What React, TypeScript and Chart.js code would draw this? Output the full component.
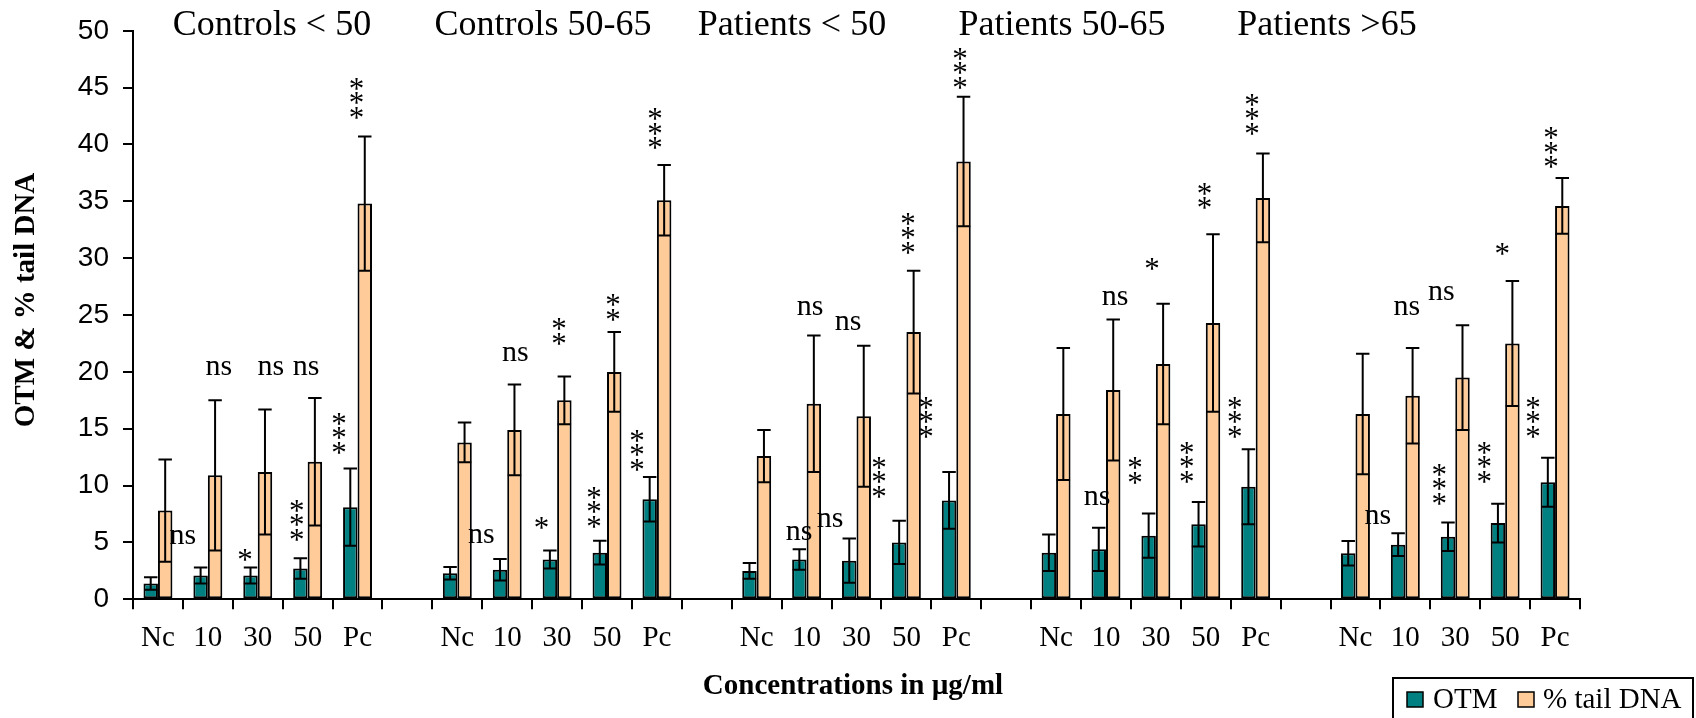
import React, { useEffect, useRef } from 'react';
import { Chart, registerables } from 'chart.js';

Chart.register(...registerables);

// ---------------- data ----------------
const groupTitles = ['Controls < 50', 'Controls 50-65', 'Patients < 50', 'Patients 50-65', 'Patients >65'];
const concentrations = ['Nc', '10', '30', '50', 'Pc'];

// flat, group by group (5 concentrations each)
const otmMean = [
  1.4, 2.1, 2.1, 2.7, 8.1,
  2.3, 2.6, 3.5, 4.1, 8.8,
  2.5, 3.5, 3.4, 5.0, 8.7,
  4.1, 4.4, 5.6, 6.6, 9.9,
  4.05, 4.8, 5.5, 6.7, 10.3,
];
const otmErr = [
  0.55, 0.7, 0.7, 0.9, 3.4,
  0.55, 0.95, 0.8, 1.05, 1.95,
  0.7, 0.9, 1.95, 1.9, 2.5,
  1.6, 1.9, 1.95, 1.95, 3.3,
  1.07, 1.0, 1.25, 1.7, 2.15,
];
const tailMean = [
  7.8, 10.9, 11.2, 12.1, 34.8,
  13.8, 14.9, 17.5, 20.0, 35.1,
  12.6, 17.2, 16.1, 23.5, 38.5,
  16.3, 18.4, 20.7, 24.3, 35.3,
  16.3, 17.9, 19.5, 22.5, 34.6,
];
const tailErr = [
  4.5, 6.6, 5.5, 5.6, 5.9,
  1.75, 4.0, 2.1, 3.5, 3.1,
  2.3, 6.0, 6.2, 5.4, 5.7,
  5.8, 6.2, 5.3, 7.8, 3.9,
  5.3, 4.2, 4.6, 5.5, 2.45,
];

// significance labels: text, flat slot (0..24), value level (axis units)
const sigText = [
  'ns', 'ns', '*', 'ns', 'ns', '***', '***', '***',
  'ns', 'ns', '*', '**', '**', '***', '***', '***',
  'ns', 'ns', 'ns', 'ns', '***', '***', '***', '***',
  'ns', 'ns', '**', '*', '***', '**', '***', '***',
  'ns', 'ns', 'ns', '***', '***', '*', '***', '***',
];
const sigSlot = [
  1, 1, 2, 2, 3, 3, 4, 4,
  6, 6, 7, 7, 8, 8, 9, 9,
  11, 12, 11, 12, 13, 13, 14, 14,
  16, 16, 17, 17, 18, 18, 19, 19,
  21, 21, 22, 22, 23, 23, 24, 24,
];
const sigLevel = [
  5.46, 20.3, 3.9, 20.3, 20.3, 6.96, 14.6, 44.05,
  5.58, 21.6, 6.7, 23.55, 25.65, 8.1, 13.1, 41.4,
  5.8, 6.96, 25.6, 24.3, 10.75, 32.2, 16.0, 46.7,
  8.9, 26.5, 11.35, 29.5, 12.05, 35.45, 16.0, 42.65,
  7.2, 25.65, 26.96, 10.1, 12.05, 30.8, 16.0, 39.7,
];

// ---------------- layout (pixels) ----------------
const sigDx = [
  -25, 11, -12.75, 13, -1.6, -11, -18.5, -1,
  -26, 8, -15.5, 2, 6, -13, -20, -2,
  -7.6, -26.5, 3.4, -8.5, -27.5, 1.5, -30.4, 3.6,
  -9, 9, -21, -4, -19, -1.3, -21, -3.7,
  -27.5, 1.5, -14, -16, -21, -3, -22, -4,
];
const titleX = [272, 543, 792, 1062, 1327];

const W = 1696;
const H = 718;
const OTM_COLOR = '#008080';
const TAIL_COLOR = '#FFCC99';
const SERIF = '"Liberation Serif", "Times New Roman", serif';
const SANS = '"Liberation Sans", Arial, sans-serif';

const slotToIndex = (k: number) => Math.floor(k / 5) * 6 + (k % 5);

function buildLabels() {
  const out: string[] = [];
  groupTitles.forEach((_, g) => {
    concentrations.forEach((c) => out.push(c));
    if (g < groupTitles.length - 1) out.push('');
  });
  return out;
}
function spread(values: number[]) {
  const out: (number | null)[] = [];
  for (let g = 0; g < groupTitles.length; g++) {
    for (let i = 0; i < 5; i++) out.push(values[g * 5 + i]);
    if (g < groupTitles.length - 1) out.push(null);
  }
  return out;
}

function drawInkCentered(ctx: CanvasRenderingContext2D, text: string, x: number, cy: number, font: string) {
  ctx.font = font;
  ctx.textAlign = 'center';
  ctx.textBaseline = 'alphabetic';
  const m = ctx.measureText(text);
  const base = cy + (m.actualBoundingBoxAscent - m.actualBoundingBoxDescent) / 2;
  ctx.fillText(text, x, base);
}

const overlay = {
  id: 'overlay',
  afterDatasetsDraw(chart: any) {
    const ctx: CanvasRenderingContext2D = chart.ctx;
    const y = chart.scales.y;
    const sets = [
      { mean: otmMean, err: otmErr },
      { mean: tailMean, err: tailErr },
    ];
    ctx.save();
    ctx.strokeStyle = '#000';
    ctx.lineWidth = 2;
    sets.forEach((s, d) => {
      const meta = chart.getDatasetMeta(d);
      for (let k = 0; k < s.mean.length; k++) {
        const el = meta.data[slotToIndex(k)];
        if (!el) continue;
        const x = el.x;
        const half = el.width / 2 - 0.5;
        const yt = y.getPixelForValue(s.mean[k] + s.err[k]);
        const yb = y.getPixelForValue(s.mean[k] - s.err[k]);
        ctx.beginPath();
        ctx.moveTo(x, yt);
        ctx.lineTo(x, yb);
        ctx.moveTo(x - half, yt);
        ctx.lineTo(x + half, yt);
        ctx.moveTo(x - half, yb);
        ctx.lineTo(x + half, yb);
        ctx.stroke();
      }
    });
    ctx.restore();
  },
  afterDraw(chart: any) {
    const ctx: CanvasRenderingContext2D = chart.ctx;
    const xs = chart.scales.x;
    const ys = chart.scales.y;
    ctx.save();
    ctx.fillStyle = '#000';

    // significance marks
    for (let j = 0; j < sigText.length; j++) {
      const cx = xs.getPixelForValue(slotToIndex(sigSlot[j])) + sigDx[j];
      const cy = ys.getPixelForValue(sigLevel[j]);
      const t = sigText[j];
      if (t === 'ns') {
        drawInkCentered(ctx, 'ns', cx, cy, `30px ${SERIF}`);
      } else {
        const n = t.length;
        for (let s = 0; s < n; s++) {
          drawInkCentered(ctx, '*', cx, cy + (s - (n - 1) / 2) * 14.5, `31px ${SERIF}`);
        }
      }
    }

    // group titles
    ctx.font = `36px ${SERIF}`;
    ctx.textAlign = 'center';
    ctx.textBaseline = 'alphabetic';
    groupTitles.forEach((t, g) => ctx.fillText(t, titleX[g], 35));

    // axis titles
    ctx.font = `bold 29px ${SERIF}`;
    ctx.fillText('Concentrations in µg/ml', 853, 694);
    ctx.save();
    ctx.translate(27, 300);
    ctx.rotate(-Math.PI / 2);
    ctx.textBaseline = 'middle';
    ctx.fillText('OTM & % tail DNA', 0, 0);
    ctx.restore();

    // legend
    ctx.lineWidth = 2;
    ctx.strokeStyle = '#000';
    ctx.strokeRect(1393, 678, 300, 60);
    const items = [
      { label: 'OTM', color: OTM_COLOR, bx: 1407, tx: 1433 },
      { label: '% tail DNA', color: TAIL_COLOR, bx: 1518, tx: 1543 },
    ];
    ctx.font = `29px ${SERIF}`;
    ctx.textAlign = 'left';
    ctx.textBaseline = 'alphabetic';
    items.forEach((it) => {
      ctx.fillStyle = it.color;
      ctx.fillRect(it.bx, 692, 16, 15);
      ctx.lineWidth = 1.5;
      ctx.strokeRect(it.bx, 692, 16, 15);
      ctx.fillStyle = '#000';
      ctx.fillText(it.label, it.tx, 708);
    });
    ctx.restore();
  },
};

export default function App() {
  const ref = useRef<HTMLCanvasElement>(null);
  useEffect(() => {
    document.body.style.margin = '0';
    document.body.style.overflow = 'hidden';
    const canvas = ref.current!;
    const chart = new Chart(canvas, {
      type: 'bar',
      data: {
        labels: buildLabels(),
        datasets: [
          {
            label: 'OTM',
            data: spread(otmMean),
            backgroundColor: OTM_COLOR,
            borderColor: '#000',
            borderWidth: 2,
            borderSkipped: false,
          },
          {
            label: '% tail DNA',
            data: spread(tailMean),
            backgroundColor: TAIL_COLOR,
            borderColor: '#000',
            borderWidth: 2,
            borderSkipped: false,
          },
        ],
      },
      options: {
        animation: false,
        responsive: false,
        maintainAspectRatio: false,
        devicePixelRatio: 1,
        layout: { padding: { top: 29.3, right: 116, left: 0, bottom: 0 } },
        datasets: { bar: { categoryPercentage: 0.58, barPercentage: 1 } },
        plugins: { legend: { display: false }, tooltip: { enabled: false }, title: { display: false } },
        scales: {
          x: {
            offset: true,
            grid: { display: true, offset: true, drawOnChartArea: false, drawTicks: true, tickLength: 10, color: '#000', lineWidth: 2 },
            border: { display: true, color: '#000', width: 2 },
            ticks: { color: '#000', font: { family: SERIF, size: 29 }, padding: 12, autoSkip: false, maxRotation: 0, minRotation: 0 },
            afterFit: (s: any) => { s.height = 118.7; },
          },
          y: {
            min: 0,
            max: 50,
            grid: { display: true, drawOnChartArea: false, drawTicks: true, tickLength: 10, color: '#000', lineWidth: 2 },
            border: { display: true, color: '#000', width: 2 },
            ticks: { stepSize: 5, color: '#000', font: { family: SANS, size: 28 }, padding: 14 },
            afterFit: (s: any) => { s.width = 133; },
          },
        },
      },
      plugins: [overlay],
    } as any);
    return () => chart.destroy();
  }, []);
  return (
    <div style={{ width: W, height: H, background: '#fff', overflow: 'hidden' }}>
      <canvas ref={ref} width={W} height={H} style={{ display: 'block', width: W, height: H }} />
    </div>
  );
}
